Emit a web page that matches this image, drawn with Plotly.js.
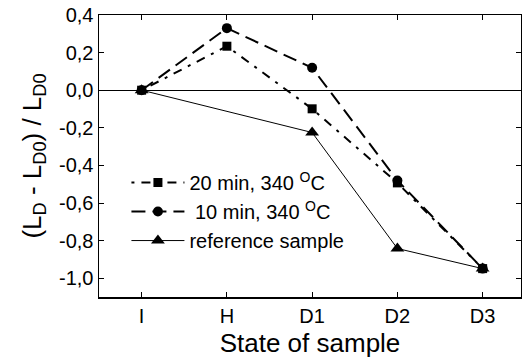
<!DOCTYPE html>
<html><head><meta charset="utf-8">
<script src="https://cdn.plot.ly/plotly-3.0.1.min.js"></script>
<style>body{margin:0;padding:0;background:#fff}#c{width:522px;height:361px}</style>
</head><body><div id="c"></div>
<script>
const categories = ['I','H','D1','D2','D3'];
const min20 = [0, 0.234, -0.099, -0.493, -0.949];
const min10 = [0, 0.33, 0.119, -0.48, -0.949];
const refX = ['I','D1','D2','D3'];
const refY = [0, -0.225, -0.842, -0.949];
const yTickVals = [-1.0,-0.8,-0.6,-0.4,-0.2,0,0.2,0.4];
const yTickText = ['-1,0','-0,8','-0,6','-0,4','-0,2','0,0','0,2','0,4'];

const catIndex = c => categories.indexOf(c);

const traces = [
  {x: categories.map(catIndex), y: min20, name: '20 min, 340 <sup>O</sup>C', mode: 'lines+markers',
   line: {color: '#000', width: 2, dash: '3px,7px,9px,7px'}, marker: {symbol: 'square', size: 9, color: '#000'}},
  {x: categories.map(catIndex), y: min10, name: ' 10 min, 340 <sup>O</sup>C', mode: 'lines+markers',
   line: {color: '#000', width: 2, dash: '14px,7px'}, marker: {symbol: 'circle', size: 10, color: '#000'}},
  {x: refX.map(catIndex), y: refY, name: 'reference sample', mode: 'lines+markers',
   line: {color: '#000', width: 1}, marker: {symbol: 'triangle-up', size: 12, color: '#000'}}
];

const layout = {
  width: 522, height: 361,
  margin: {l: 99, r: 1, t: 15, b: 64},
  paper_bgcolor: '#fff', plot_bgcolor: '#fff',
  font: {family: 'Liberation Sans, Arial, sans-serif', color: '#000', size: 20},
  showlegend: true,
  legend: {x: 0.065, y: 0.475, xanchor: 'left', yanchor: 'top', bgcolor: 'rgba(0,0,0,0)',
           font: {size: 20}, itemwidth: 53, tracegroupgap: 0},
  xaxis: {
    range: [-0.5, 4.45], tickvals: [0,1,2,3,4], ticktext: categories,
    showline: true, linecolor: '#000', linewidth: 1.5, mirror: 'ticks',
    ticks: 'inside', ticklen: 5, tickcolor: '#000', showgrid: false, zeroline: false,
    tickfont: {size: 20},
    title: {text: 'State of sample', font: {size: 26}, standoff: 8}
  },
  yaxis: {
    range: [-1.1, 0.4], tickvals: yTickVals, ticktext: yTickText,
    showline: true, linecolor: '#000', linewidth: 1.5, mirror: 'ticks',
    ticks: 'inside', ticklen: 5, tickcolor: '#000', showgrid: false,
    zeroline: true, zerolinecolor: '#000', zerolinewidth: 1.2,
    tickfont: {size: 20},
    title: {text: '(L<sub>D</sub> - L<sub>D0</sub>) / L<sub>D0</sub>', font: {size: 26}, standoff: 10}
  }
};

Plotly.newPlot('c', traces, layout, {staticPlot: true, displayModeBar: false});
</script>
</body></html>
